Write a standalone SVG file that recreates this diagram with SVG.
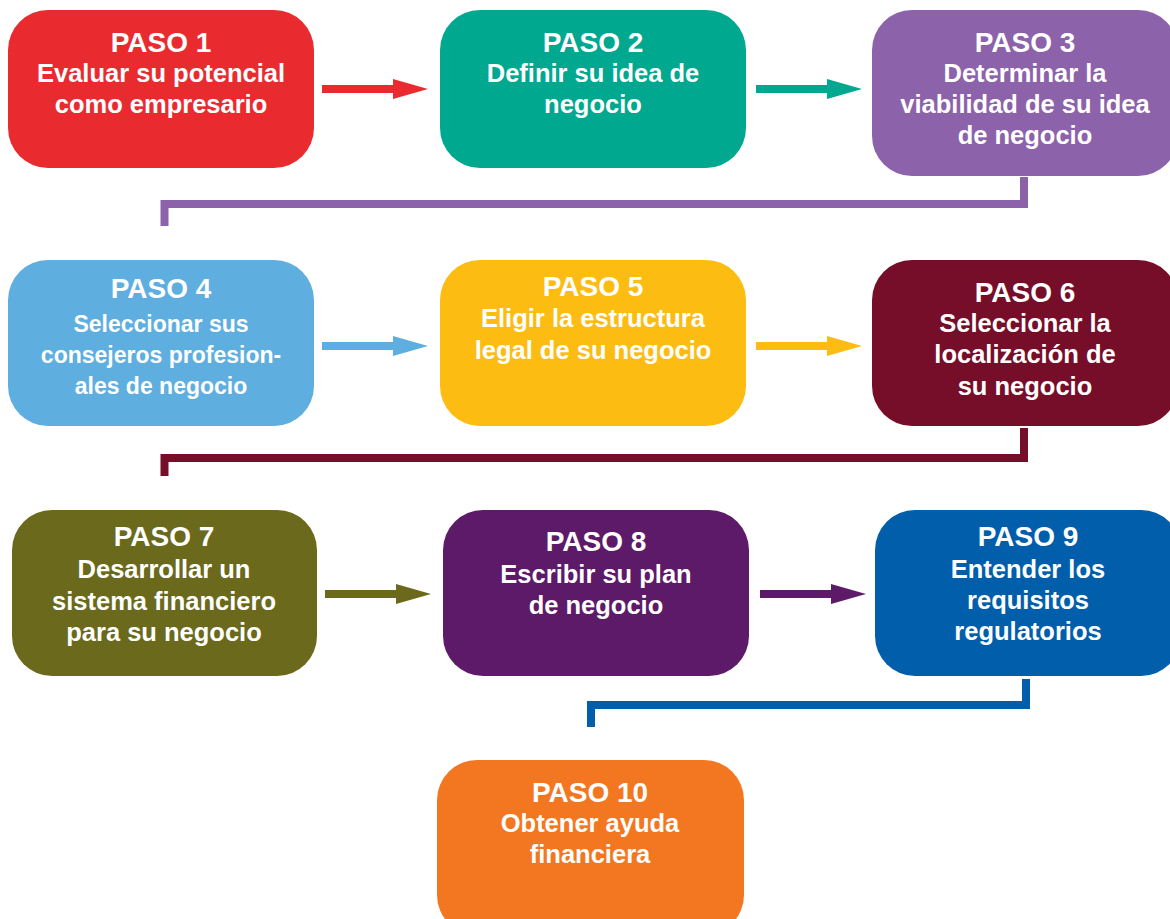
<svg xmlns="http://www.w3.org/2000/svg" xmlns:xlink="http://www.w3.org/1999/xlink" width="1170" height="919" viewBox="0 0 1170 919">
<style>
  text { font-family: "Liberation Sans", Arial, sans-serif; font-weight: bold; fill: #ffffff; text-anchor: middle; }
  .t { font-size: 28px; }
  .b { font-size: 25.5px; }
  .s { font-size: 23px; }
  .conn { fill: none; stroke-width: 8; stroke-linejoin: miter; stroke-linecap: butt; }
</style>
<defs>
  <path id="arrow" d="M0,-4 H71 V-10 L106,0 L71,10 V4 H0 Z"/>
</defs>
<rect width="1170" height="919" fill="#ffffff"/>

<g id="connectors">
  <use xlink:href="#arrow" x="322" y="89" fill="#E92B30"/>
  <use xlink:href="#arrow" x="756" y="89" fill="#00A88F"/>
  <use xlink:href="#arrow" x="322" y="346" fill="#5EAEE0"/>
  <use xlink:href="#arrow" x="756" y="346" fill="#FCBC12"/>
  <use xlink:href="#arrow" x="325" y="594" fill="#6A691C"/>
  <use xlink:href="#arrow" x="760" y="594" fill="#5D1A68"/>
  <polyline class="conn" stroke="#8C62AA" points="1024,177 1024,204 164.5,204 164.5,226"/>
  <polyline class="conn" stroke="#760E29" points="1024,428 1024,458 164.5,458 164.5,476"/>
  <polyline class="conn" stroke="#005EAB" points="1026,679 1026,705 591,705 591,727"/>
</g>

<g id="paso1">
  <rect x="8" y="10" width="306" height="158" rx="40" fill="#E92B30"/>
  <text class="t" x="161" y="52">PASO 1</text>
  <text class="b" x="161" y="82">Evaluar su potencial</text>
  <text class="b" x="161" y="113">como empresario</text>
</g>
<g id="paso2">
  <rect x="440" y="10" width="306" height="158" rx="40" fill="#00A88F"/>
  <text class="t" x="593" y="52">PASO 2</text>
  <text class="b" x="593" y="82">Definir su idea de</text>
  <text class="b" x="593" y="113">negocio</text>
</g>
<g id="paso3">
  <rect x="872" y="10" width="306" height="166" rx="40" fill="#8C62AA"/>
  <text class="t" x="1025" y="52">PASO 3</text>
  <text class="b" x="1025" y="82">Determinar la</text>
  <text class="b" x="1025" y="113">viabilidad de su idea</text>
  <text class="b" x="1025" y="144">de negocio</text>
</g>
<g id="paso4">
  <rect x="8" y="260" width="306" height="166" rx="40" fill="#5EAEE0"/>
  <text class="t" x="161" y="298">PASO 4</text>
  <text class="s" x="161" y="332">Seleccionar sus</text>
  <text class="s" x="161" y="363">consejeros profesion-</text>
  <text class="s" x="161" y="394">ales de negocio</text>
</g>
<g id="paso5">
  <rect x="440" y="260" width="306" height="166" rx="40" fill="#FCBC12"/>
  <text class="t" x="593" y="296">PASO 5</text>
  <text class="b" x="593" y="327">Eligir la estructura</text>
  <text class="b" x="593" y="359">legal de su negocio</text>
</g>
<g id="paso6">
  <rect x="872" y="260" width="306" height="166" rx="40" fill="#760E29"/>
  <text class="t" x="1025" y="302">PASO 6</text>
  <text class="b" x="1025" y="332">Seleccionar la</text>
  <text class="b" x="1025" y="363">localización de</text>
  <text class="b" x="1025" y="395">su negocio</text>
</g>
<g id="paso7">
  <rect x="12" y="510" width="305" height="166" rx="40" fill="#6A691C"/>
  <text class="t" x="164" y="546">PASO 7</text>
  <text class="b" x="164" y="578">Desarrollar un</text>
  <text class="b" x="164" y="610">sistema financiero</text>
  <text class="b" x="164" y="641">para su negocio</text>
</g>
<g id="paso8">
  <rect x="443" y="510" width="306" height="166" rx="40" fill="#5D1A68"/>
  <text class="t" x="596" y="551">PASO 8</text>
  <text class="b" x="596" y="583">Escribir su plan</text>
  <text class="b" x="596" y="614">de negocio</text>
</g>
<g id="paso9">
  <rect x="875" y="510" width="306" height="166" rx="40" fill="#005EAB"/>
  <text class="t" x="1028" y="546">PASO 9</text>
  <text class="b" x="1028" y="578">Entender los</text>
  <text class="b" x="1028" y="609">requisitos</text>
  <text class="b" x="1028" y="640">regulatorios</text>
</g>
<g id="paso10">
  <rect x="437" y="760" width="307" height="175" rx="40" fill="#F37721"/>
  <text class="t" x="590" y="802">PASO 10</text>
  <text class="b" x="590" y="832">Obtener ayuda</text>
  <text class="b" x="590" y="863">financiera</text>
</g>
</svg>
